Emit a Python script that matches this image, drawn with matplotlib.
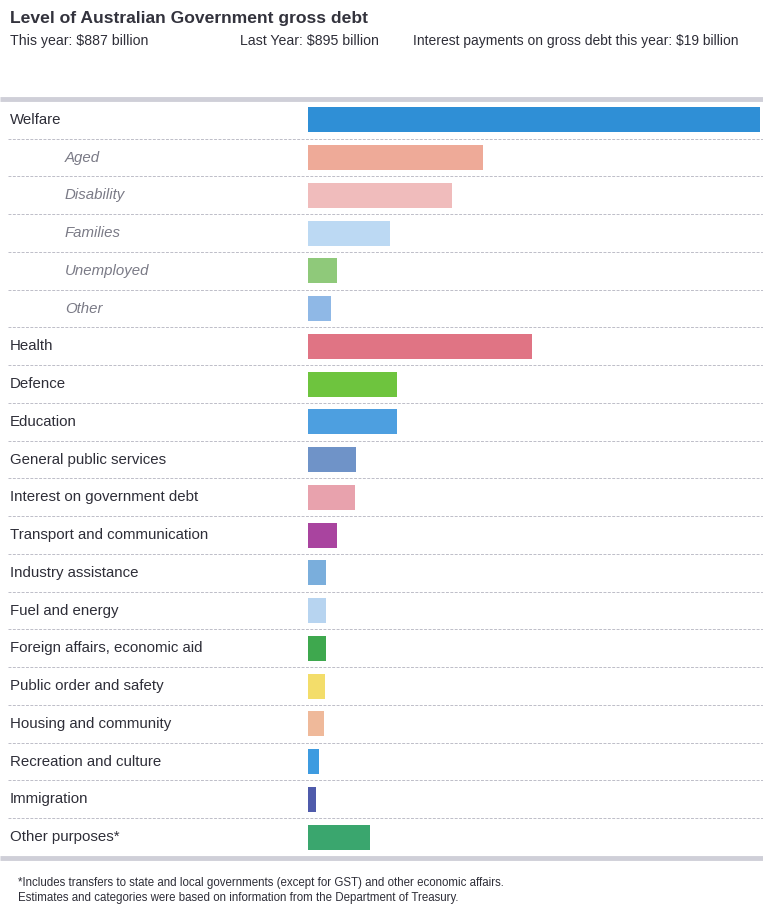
import matplotlib
matplotlib.use('Agg')
import matplotlib.pyplot as plt
import matplotlib.transforms as mtransforms

plt.rcParams['font.family'] = ['Liberation Sans Narrow', 'Liberation Sans', 'DejaVu Sans']

# spending categories ($ billion)
categories = ['Welfare', 'Aged', 'Disability', 'Families', 'Unemployed', 'Other',
              'Health', 'Defence', 'Education', 'General public services',
              'Interest on government debt', 'Transport and communication',
              'Industry assistance', 'Fuel and energy', 'Foreign affairs, economic aid',
              'Public order and safety', 'Housing and community', 'Recreation and culture',
              'Immigration', 'Other purposes*']
values = [174, 67.3, 55.4, 31.5, 11.2, 8.8,
          86.2, 34.2, 34.2, 18.5,
          18.0, 11.2,
          6.9, 6.9, 6.9,
          6.5, 6.2, 4.2,
          3.1, 23.8]
is_sub = [False, True, True, True, True, True] + [False] * 14
colors = ['#2f8fd6', '#eeaa98', '#f0bcbc', '#bcd9f3', '#8fc97a', '#8fb8e6',
          '#e07484', '#6ec43e', '#4d9fe0', '#6f93c8',
          '#e8a2ad', '#a9449f',
          '#7aaedc', '#b7d4f0', '#3ea84e',
          '#f3dd6a', '#efb99a', '#3d9be0',
          '#4f5bab', '#3aa66e']

title = 'Level of Australian Government gross debt'
this_year = 'This year: $887 billion'
last_year = 'Last Year: $895 billion'
interest = 'Interest payments on gross debt this year: $19 billion'
footnote = ['*Includes transfers to state and local governments (except for GST) and other economic affairs.',
            'Estimates and categories were based on information from the Department of Treasury.']

W, H = 763, 908
fig = plt.figure(figsize=(W / 100, H / 100), dpi=100)
ax = fig.add_axes([308 / W, 1 - 856 / H, 452 / W, 755 / H])

ypos = list(range(len(categories)))
ax.barh(ypos, values, height=0.66, color=colors, edgecolor='none')
ax.set_xlim(0, max(values))
ax.set_ylim(len(categories) - 0.5, -0.5)
ax.axis('off')

# labels and dotted separators, x in figure coords, y in data coords
trans = mtransforms.blended_transform_factory(fig.transFigure, ax.transData)
for y, name, sub in zip(ypos, categories, is_sub):
    if sub:
        ax.text(65 / W, y, name, transform=trans, ha='left', va='center',
                fontsize=10.8, style='italic', color='#7a7a86')
    else:
        ax.text(10 / W, y, name, transform=trans, ha='left', va='center',
                fontsize=10.8, color='#2e2e38')
for y in ypos[:-1]:
    ax.plot([8 / W, 1], [y + 0.5, y + 0.5], transform=trans, clip_on=False,
            color='#bdbdc8', lw=0.7, ls=(0, (3, 1.5)))

# faded bands above and below the chart
for yb in (-0.55, len(categories) - 0.45):
    ax.plot([0, 1], [yb, yb], transform=trans, clip_on=False,
            color='#cfcfd8', lw=3.5, solid_capstyle='butt')

fig.text(10 / W, 1 - 18 / H, title, fontsize=12.6, fontweight='bold',
         color='#33333d', va='center')
fig.text(10 / W, 1 - 41 / H, this_year, fontsize=10.2, color='#2e2e38', va='center')
fig.text(240 / W, 1 - 41 / H, last_year, fontsize=10.2, color='#2e2e38', va='center')
fig.text(413 / W, 1 - 41 / H, interest, fontsize=10, color='#2e2e38', va='center')

fig.text(18 / W, 1 - 883 / H, footnote[0], fontsize=8.3, color='#2e2e38', va='center')
fig.text(18 / W, 1 - 898 / H, footnote[1], fontsize=8.3, color='#2e2e38', va='center')

fig.savefig('out.png', dpi=100, facecolor='white')
